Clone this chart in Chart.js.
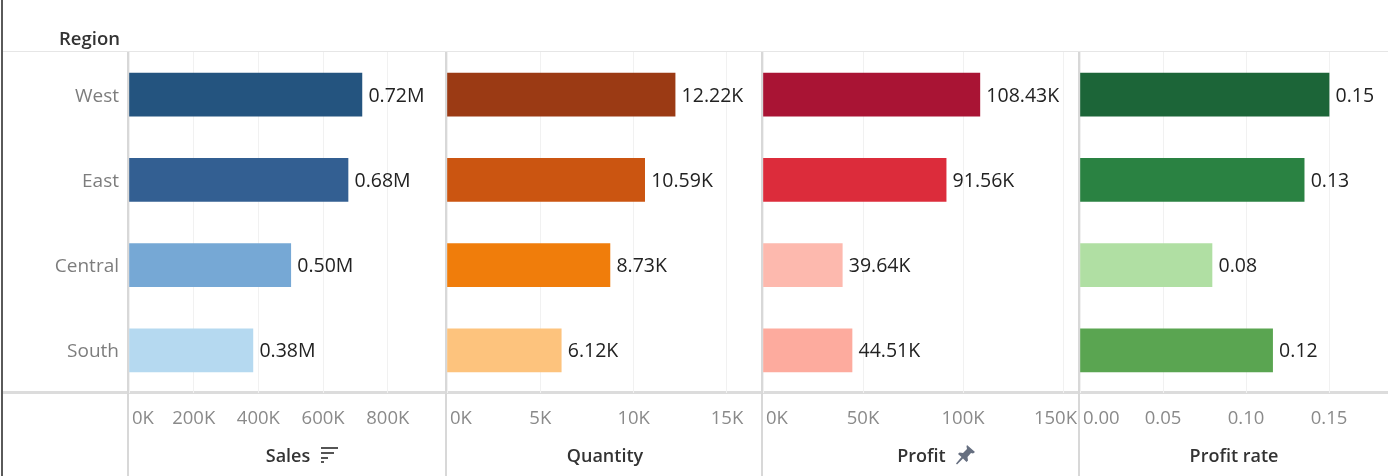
<!DOCTYPE html>
<html><head><meta charset="utf-8">
<script src="https://cdn.jsdelivr.net/npm/chart.js@4/dist/chart.umd.min.js"></script>
<style>
html,body{margin:0;padding:0;background:#fff;width:1388px;height:476px;overflow:hidden;font-family:"Open Sans",sans-serif}
#wrap{position:relative;width:1388px;height:476px;filter:blur(.5px)}
canvas{position:absolute;top:0}
.ln{position:absolute;background:#dedede}
#region{position:absolute;left:59px;top:25px;font:600 18.5px "Open Sans",sans-serif;color:#333}
svg{position:absolute}
</style></head><body>
<div id="wrap">
<div class="ln" style="left:1px;top:0;width:2px;height:476px;background:#5a5a5a"></div>
<div class="ln" style="left:3px;top:51px;width:1385px;height:1px;background:#e6e6e6"></div>
<div class="ln" style="left:3px;top:391px;width:1385px;height:3px;background:#dcdcdc"></div>
<div id="region">Region</div>
<canvas id="c0"></canvas><canvas id="c1"></canvas><canvas id="c2"></canvas><canvas id="c3"></canvas>
<svg style="left:320px;top:446px" width="20" height="18" viewBox="0 0 20 18"><path d="M1 2h17M1 7h13M1 12h7M1 16h3" stroke="#555" stroke-width="1.8" fill="none"/></svg>
<svg style="left:954px;top:444px" width="22" height="22" viewBox="0 0 22 22"><path d="M13 1l8 7-2 1.500-2-.5-3.500 4 .5 3.500-1.500 1.500-3.500-3.500-6 6-1-1 5.500-6.500L4 10l1.500-1.500 3.500.5 4-4-.5-2.500z" fill="#666f80"/></svg>
</div>
<script>
const categories = ["West","East","Central","South"];
const salesValues = [720000,677000,500000,383000];
const quantityValues = [12220,10590,8730,6120];
const profitValues = [108430,91560,39640,44510];
const rateValues = [0.15,0.135,0.0795,0.116];
const salesLabels = ["0.72M","0.68M","0.50M","0.38M"];
const quantityLabels = ["12.22K","10.59K","8.73K","6.12K"];
const profitLabels = ["108.43K","91.56K","39.64K","44.51K"];
const rateLabels = ["0.15","0.13","0.08","0.12"];
const salesColors = ["#24547f","#335f92","#76a8d5","#b5d9f0"];
const quantityColors = ["#9b3a14","#cb5511","#f07d0b","#fdc37d"];
const profitColors = ["#a91434","#dc2c3b","#fdb9ae","#fdab9e"];
const rateColors = ["#1c6538","#2a8242","#b0dfa3","#5aa551"];
const salesTicks = [0,200000,400000,600000,800000];
const quantityTicks = [0,5000,10000,15000];
const profitTicks = [0,50000,100000,150000];
const rateTicks = [0,0.05,0.10,0.15];
const kFmt = v => (v/1000)+"K";
const rFmt = v => v.toFixed(2);

const FONT = '"Open Sans", sans-serif';
const TOP = 52, BOTTOM = 393, H = 476;

const panels = [
 {id:"c0", left:0, x0:129, x1:447, max:983000, vals:salesValues, labs:salesLabels, cols:salesColors, ticks:salesTicks, fmt:kFmt, title:"Sales", yAxis:true},
 {id:"c1", left:447, x0:447, x1:763, max:16930, vals:quantityValues, labs:quantityLabels, cols:quantityColors, ticks:quantityTicks, fmt:kFmt, title:"Quantity"},
 {id:"c2", left:763, x0:763, x1:1080, max:158500, vals:profitValues, labs:profitLabels, cols:profitColors, ticks:profitTicks, fmt:kFmt, title:"Profit"},
 {id:"c3", left:1080, x0:1080, x1:1388, max:0.1855, vals:rateValues, labs:rateLabels, cols:rateColors, ticks:rateTicks, fmt:rFmt, title:"Profit rate"}
];

panels.forEach(p => {
  const cv = document.getElementById(p.id);
  const W = p.x1 - p.left;
  cv.style.left = (p.left - (p.yAxis ? 0 : 2)) + "px";
  cv.style.width = (W + (p.yAxis ? 0 : 2)) + "px"; cv.style.height = H + "px";
  cv.width = W + (p.yAxis ? 0 : 2); cv.height = H;
  new Chart(cv, {
    type: "bar",
    data: {labels: categories, datasets: [{data: p.vals, backgroundColor: p.cols, borderWidth: 0, barThickness: 43}]},
    plugins: [{
      id: "panel",
      beforeDraw(chart) {
        // keep tick labels inside their pane, as the reference does
        const s = chart.scales.x, ctx = chart.ctx;
        ctx.save();
        ctx.font = "18.5px " + FONT;
        s.getLabelItems().forEach((it, i) => {
          const [x, y] = it.options.translation;
          const w = ctx.measureText(it.label).width;
          if (i === 0) { it.options.textAlign = "left"; it.options.translation = [s.left + 3, y]; }
          else if (x + w / 2 > s.right) { it.options.textAlign = "right"; it.options.translation = [s.right - 3, y]; }
        });
        ctx.restore();
      },
      beforeDatasetsDraw(chart) {
        const ctx = chart.ctx;
        ctx.save();
        ctx.fillStyle = "#d8d8d8";
        ctx.fillRect(chart.chartArea.left - 2, TOP, 2, H - TOP);
        ctx.restore();
      },
      afterDatasetsDraw(chart) {
        const ctx = chart.ctx, meta = chart.getDatasetMeta(0);
        ctx.save();
        ctx.font = "19.5px " + FONT;
        ctx.fillStyle = "#222";
        ctx.textBaseline = "middle";
        meta.data.forEach((b, i) => ctx.fillText(p.labs[i], b.x + 6.5, b.y + 1.5));
        ctx.restore();
      }
    }],
    options: {
      indexAxis: "y", responsive: false, animation: false, devicePixelRatio: 1,
      layout: {padding: {top: TOP, bottom: 0, left: p.yAxis ? 0 : 2, right: 0}},
      plugins: {legend: {display: false}, tooltip: {enabled: false}},
      scales: {
        x: {
          position: "bottom", min: 0, max: p.max,
          afterBuildTicks: s => { s.ticks = p.ticks.map(v => ({value: v})); },
          afterFit: s => { s.height = H - BOTTOM; s.paddingLeft = 0; s.paddingRight = 0; },
          grid: {color: "#f1f1f1", lineWidth: 1, drawTicks: false, drawOnChartArea: true},
          border: {display: false},
          ticks: {autoSkip: false, maxRotation: 0, padding: 15, color: "#8a8a8a", font: {family: FONT, size: 18.5}, callback: v => p.fmt(v)},
          title: {display: true, text: p.title, color: "#333", font: {family: FONT, size: 18, weight: "600"}, padding: {top: 5, bottom: 8}}
        },
        y: {
          display: !!p.yAxis,
          afterFit: s => { s.width = p.x0 - p.left; },
          grid: {display: false}, border: {display: false},
          ticks: {padding: 2, labelOffset: 1.5, color: "#7d7d7d", font: {family: FONT, size: 19}}
        }
      }
    }
  });
});
</script>
</body></html>
